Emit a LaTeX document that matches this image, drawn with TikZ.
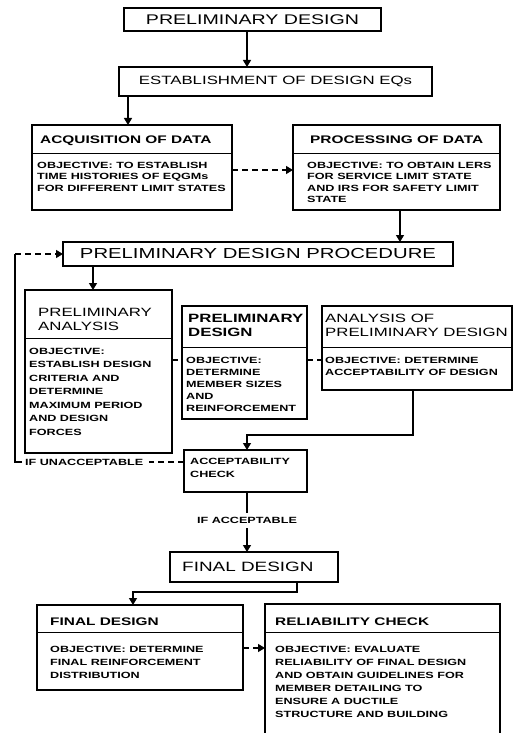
\documentclass[tikz,border=0pt]{standalone}
\usepackage{fontspec}
\setmainfont{Liberation Sans}[FakeStretch=1.4]
\usetikzlibrary{arrows.meta}
\begin{document}
\begin{tikzpicture}[x=1pt,y=-1pt,
  box/.style={draw, line width=1.2pt, anchor=north west, inner sep=0pt, outer sep=0pt},
  ttl/.style={font=\fontsize{14}{16}\selectfont},
  hdr/.style={font=\bfseries\fontsize{11}{13}\selectfont, anchor=base west, inner sep=0pt},
  hdrr/.style={font=\fontsize{12}{14}\selectfont, anchor=north west, align=left, inner sep=0pt},
  hdrb/.style={font=\bfseries\fontsize{12}{14}\selectfont, anchor=north west, align=left, inner sep=0pt},
  bdy/.style={font=\bfseries\fontsize{9}{12}\selectfont, anchor=north west, align=left, inner sep=0pt},
  lbl/.style={font=\bfseries\fontsize{9}{11}\selectfont, inner sep=0pt},
  conn/.style={line width=1.2pt},
  sep/.style={line width=0.8pt},
  tip/.style={-{Triangle[length=7pt,width=8pt]}},
  arr/.style={conn, tip},
  dconn/.style={conn, dash pattern=on 6pt off 4pt},
]
\useasboundingbox (0,0) rectangle (517,733);
\clip (0,0) rectangle (517,733);

% top boxes
\node[box, ttl, minimum width=257pt, minimum height=23pt] (pd) at (124,8) {PRELIMINARY DESIGN};
\node[box, font=\fontsize{12}{14}\selectfont, minimum width=313pt, minimum height=29pt] (est) at (119,67) {ESTABLISHMENT OF DESIGN EQs};

% acquisition
\node[box, minimum width=200pt, minimum height=85pt] (acq) at (32,125) {};
\node[hdr] (acqh) at (40,143) {ACQUISITION OF DATA};
\draw[sep] (acq.west |- 0,153) -- (acq.east |- 0,153);
\node[bdy, font=\bfseries\fontsize{9}{11.5}\selectfont] (acqb) at (37,161.8) {OBJECTIVE: TO ESTABLISH\\TIME HISTORIES OF EQGMs\\FOR DIFFERENT LIMIT STATES};

% processing
\node[box, minimum width=207pt, minimum height=85pt] (proc) at (293,125) {};
\node[hdr] (proch) at (310,143) {PROCESSING OF DATA};
\draw[sep] (proc.west |- 0,153) -- (proc.east |- 0,153);
\node[bdy, font=\bfseries\fontsize{9}{11.5}\selectfont] (procb) at (307,161.8) {OBJECTIVE: TO OBTAIN LERS\\FOR SERVICE LIMIT STATE\\AND IRS FOR SAFETY LIMIT\\STATE};

% procedure
\node[box, font=\fontsize{14.5}{16}\selectfont, minimum width=390pt, minimum height=24pt] (pdp) at (63,242) {PRELIMINARY DESIGN PROCEDURE};

% preliminary analysis
\node[box, minimum width=147pt, minimum height=163pt] (pa) at (25,290) {};
\node[hdrr] (pah) at (38,307.7) {PRELIMINARY\\ANALYSIS};
\draw[sep] (pa.west |- 0,338) -- (pa.east |- 0,338);
\node[bdy, font=\bfseries\fontsize{9}{13.5}\selectfont] (pab) at (29,347.8) {OBJECTIVE:\\ESTABLISH DESIGN\\CRITERIA AND\\DETERMINE\\MAXIMUM PERIOD\\AND DESIGN\\FORCES};

% preliminary design
\node[box, minimum width=125pt, minimum height=113pt] (pdd) at (182,306) {};
\node[hdrb] (pddh) at (188,313.7) {PRELIMINARY\\DESIGN};
\draw[sep] (pdd.west |- 0,347) -- (pdd.east |- 0,347);
\node[bdy] (pddb) at (186,356.8) {OBJECTIVE:\\DETERMINE\\MEMBER SIZES\\AND\\REINFORCEMENT};

% analysis of preliminary design
\node[box, minimum width=190pt, minimum height=84pt] (apd) at (322,306) {};
\node[hdrr] (apdh) at (325,313.7) {ANALYSIS OF\\PRELIMINARY DESIGN};
\draw[sep] (apd.west |- 0,347) -- (apd.east |- 0,347);
\node[bdy] (apdb) at (325,356.8) {OBJECTIVE: DETERMINE\\ACCEPTABILITY OF DESIGN};

% acceptability check
\node[box, minimum width=123pt, minimum height=42pt] (acc) at (184,450) {};
\node[bdy, font=\bfseries\fontsize{9}{13}\selectfont] (accb) at (190,457.8) {ACCEPTABILITY\\CHECK};
\node[lbl, anchor=base west] (unacc) at (25,465) {IF UNACCEPTABLE};
\node[lbl] (accl) at (247,520) {IF ACCEPTABLE};

% final design (title)
\node[box, minimum width=168pt, minimum height=30pt] (fd) at (170,552) {};
\node[font=\fontsize{13.5}{15}\selectfont, anchor=west, inner sep=0pt] (fdt) at (182,567) {FINAL DESIGN};

% final design box
\node[box, minimum width=206pt, minimum height=85pt] (fdd) at (37,605) {};
\node[hdr] (fddh) at (50,625) {FINAL DESIGN};
\draw[sep] (fdd.west |- 0,632) -- (fdd.east |- 0,632);
\node[bdy, font=\bfseries\fontsize{9}{13}\selectfont] (fddb) at (50,645.8) {OBJECTIVE: DETERMINE\\FINAL REINFORCEMENT\\DISTRIBUTION};

% reliability check
\node[box, minimum width=235pt, minimum height=145pt] (rc) at (265,604) {};
\node[hdr] (rch) at (275,625) {RELIABILITY CHECK};
\draw[sep] (rc.west |- 0,632) -- (rc.east |- 0,632);
\node[bdy, font=\bfseries\fontsize{9}{13}\selectfont] (rcb) at (275,645.8) {OBJECTIVE: EVALUATE\\RELIABILITY OF FINAL DESIGN\\AND OBTAIN GUIDELINES FOR\\MEMBER DETAILING TO\\ENSURE A DUCTILE\\STRUCTURE AND BUILDING};

% connectors
\draw[arr] (pd.south -| 247,0) -- (est.north -| 247,0);
\draw[arr] (est.south -| 128,0) -- (acq.north -| 128,0);
\draw[dconn, tip] (acq.east |- 0,170) -- (proc.west |- 0,170);
\draw[arr] (proc.south -| 400,0) -- (pdp.north -| 400,0);
\draw[arr] (pdp.south -| 93,0) -- (pa.north -| 93,0);
\draw[dconn] (pa.east |- 0,360) -- (pdd.west |- 0,360);
\draw[dconn] (pdd.east |- 0,360) -- (apd.west |- 0,360);
\draw[arr] (apd.south -| 413,0) |- (247,435) -- (acc.north -| 247,0);
\draw[dconn] (acc.west |- unacc.east) -- ([xshift=6pt]unacc.east);
\draw[conn] ([xshift=-3pt]unacc.west) -- (unacc.west -| 15,0) -- (pdp.west -| 15,0);
\draw[dconn, tip] (pdp.west -| 15,0) -- (pdp.west);
\draw[conn] (acc.south -| 247,0) -- ([yshift=4pt]accl.north);
\draw[arr] ([yshift=-5pt]accl.south) -- (fd.north -| 247,0);
\draw[arr] (fd.south -| 297,0) |- (133,592) -- (fdd.north -| 133,0);
\draw[dconn, tip] (fdd.east |- 0,648) -- (rc.west |- 0,648);
\end{tikzpicture}
\end{document}
